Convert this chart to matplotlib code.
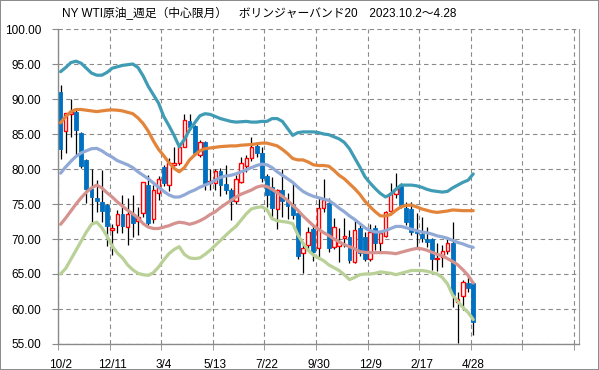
import matplotlib
matplotlib.use("Agg")
import matplotlib.pyplot as plt
import numpy as np

plt.rcParams['font.family'] = ['Liberation Sans', 'Noto Sans CJK JP', 'DejaVu Sans']

title = "NY WTI原油_週足（中心限月）　ボリンジャーバンド20　2023.10.2～4.28"
tick_labels = ["10/2", "12/11", "3/4", "5/13", "7/22", "9/30", "12/9", "2/17", "4/28"]

opens = [90.95, 85.43, 87.86, 88.1, 85.1, 81.3, 77.2, 75.9, 75.3, 74.8,
         71.24, 72.0, 73.57, 71.67, 73.57, 72.62, 73.67, 77.71, 72.81, 76.62,
         80.33, 77.71, 80.6, 80.81, 83.19, 86.9, 86.1, 82.0, 83.9, 78.0,
         77.95, 79.71, 77.86, 77.0, 75.5, 78.2, 80.43, 81.52, 83.29, 82.24,
         79.0, 77.38, 74.24, 77.0, 75.5, 74.8, 73.67, 68.05, 69.14, 71.4,
         68.67, 74.38, 75.19, 68.9, 69.0, 70.2, 70.33, 66.76, 71.52, 70.33,
         67.1, 71.52, 69.38, 70.43, 74.05, 76.5, 77.5, 74.4, 74.3, 71.2,
         70.7, 70.0, 69.95, 67.1, 67.48, 68.3, 69.4, 61.05, 61.8, 63.7,
         63.67]
highs = [92.0, 88.0, 89.95, 88.5, 85.3, 81.5, 79.95, 78.4, 79.85, 75.0,
         72.1, 74.14, 76.29, 75.8, 76.29, 74.6, 78.2, 79.14, 77.7, 79.0,
         80.6, 81.6, 83.19, 83.6, 87.86, 87.8, 86.3, 84.2, 84.0, 80.0,
         80.0, 80.2, 80.57, 77.3, 79.1, 81.76, 82.0, 84.62, 83.8, 83.1,
         79.3, 78.9, 77.1, 79.95, 76.53, 77.95, 74.0, 69.5, 71.76, 72.1,
         76.0, 78.52, 75.8, 73.05, 71.52, 72.95, 71.29, 72.71, 72.0, 71.0,
         72.14, 72.0, 71.0, 74.05, 77.95, 79.4, 78.0, 75.33, 75.3, 73.67,
         73.2, 71.76, 70.2, 69.5, 69.1, 70.3, 72.5, 62.5, 64.2, 64.9,
         64.0]
lows = [81.5, 82.3, 84.6, 82.0, 80.1, 75.1, 72.5, 73.9, 72.5, 69.0,
        67.7, 70.9, 70.9, 69.14, 70.33, 70.57, 73.2, 72.0, 72.3, 75.57,
        77.6, 76.8, 80.4, 80.6, 83.1, 85.6, 82.0, 81.7, 77.0, 77.0,
        77.0, 76.14, 76.5, 72.7, 75.0, 78.0, 79.6, 81.2, 81.7, 78.2,
        74.62, 73.2, 71.5, 73.2, 72.81, 72.9, 67.1, 65.19, 68.3, 66.8,
        67.2, 73.8, 68.19, 68.6, 66.76, 68.9, 66.6, 66.53, 67.6, 66.8,
        66.9, 68.43, 68.1, 70.3, 73.6, 75.9, 74.5, 72.0, 70.6, 68.67,
        69.6, 68.8, 65.6, 65.4, 66.0, 67.9, 60.3, 55.1, 59.8, 62.5,
        56.3]
closes = [82.8, 87.95, 88.19, 85.6, 80.4, 77.2, 76.05, 75.5, 74.05, 71.9,
          71.62, 73.57, 71.9, 73.57, 72.24, 73.19, 78.1, 72.33, 77.0, 78.52,
          77.95, 80.8, 80.81, 83.19, 87.0, 86.0, 82.3, 83.9, 78.05, 78.3,
          79.71, 77.71, 77.0, 75.5, 78.6, 80.9, 81.62, 83.19, 82.24, 78.67,
          76.3, 74.38, 77.0, 75.5, 74.76, 73.43, 67.57, 68.67, 71.05, 68.2,
          74.38, 75.57, 68.67, 71.76, 69.62, 70.4, 67.0, 71.29, 67.95, 67.1,
          71.05, 69.38, 70.81, 73.9, 76.62, 77.1, 74.86, 72.5, 71.05, 70.8,
          70.2, 69.6, 67.1, 67.3, 68.33, 69.4, 62.0, 61.5, 63.9, 62.95,
          58.2]

upper2 = [93.9, 94.5, 95.2, 95.4, 95.1, 94.4, 93.7, 93.4, 93.4, 93.8,
          94.4, 94.6, 94.8, 94.9, 95.0, 94.5, 93.3, 91.8, 90.6, 89.4,
          87.5, 86.2, 84.8, 83.2, 84.2, 85.6, 86.6, 87.6, 87.9, 87.8,
          87.5, 87.2, 87.0, 86.8, 86.7, 86.75, 86.8, 86.7, 86.7, 86.8,
          86.8, 87.2, 87.2, 86.8, 85.8, 84.8, 85.2, 85.3, 85.3, 85.3,
          85.2, 85.0, 84.9, 84.6, 84.3, 83.8, 82.9, 81.6, 80.3, 78.9,
          78.0, 77.2, 76.5, 76.0, 76.4, 77.1, 77.7, 77.7, 77.7, 77.6,
          77.4, 77.1, 76.9, 76.8, 76.7, 76.8, 77.3, 77.7, 78.1, 78.4,
          79.3]
upper1 = [86.6, 87.5, 88.2, 88.5, 88.5, 88.4, 88.3, 88.2, 88.3, 88.4,
          88.45, 88.4, 88.3, 88.1, 87.9, 87.3, 86.5, 85.4, 84.0, 82.8,
          81.9, 80.9, 80.1, 79.6, 80.2, 81.3, 82.0, 82.6, 82.9, 83.0,
          83.1, 83.2, 83.25, 83.3, 83.3, 83.4, 83.45, 83.5, 83.6, 83.7,
          83.7, 83.5, 83.3, 82.8, 82.2, 81.5, 81.3, 81.3, 81.0, 80.6,
          80.5, 80.5, 80.4, 79.8, 79.1, 78.6, 77.9, 77.2, 76.4, 75.4,
          74.6, 73.9, 73.3, 73.3, 73.5, 74.1, 74.6, 74.8, 74.85, 74.6,
          74.3, 74.1, 73.9, 73.8, 73.9, 74.0, 74.15, 74.1, 74.05, 74.05,
          74.05]
middle = [79.4, 80.3, 81.1, 81.8, 82.3, 82.6, 82.9, 82.95, 82.6, 82.1,
          81.7, 81.2, 80.9, 80.6, 80.2, 79.6, 79.1, 78.6, 78.0, 77.4,
          76.8, 76.3, 76.0, 76.0, 76.3, 76.7, 77.0, 77.4, 77.7, 78.0,
          78.4, 78.8, 79.0, 79.1, 79.3, 79.6, 79.9, 80.2, 80.5, 80.7,
          80.6, 80.2, 79.6, 79.1, 78.6, 78.1, 77.4, 76.8, 76.4, 76.1,
          75.9, 75.7, 75.5, 75.0, 74.4, 73.9, 73.3, 72.8, 72.2, 71.6,
          71.2, 71.0, 71.0, 71.2, 71.5, 71.8, 71.8, 71.6, 71.4, 71.2,
          71.0, 70.9, 70.7, 70.45, 70.3, 70.1, 69.8, 69.5, 69.3, 69.0,
          68.8]
lower1 = [72.1, 73.0, 74.0, 75.0, 75.9, 76.7, 77.3, 77.7, 77.3, 76.6,
          76.0, 75.3, 74.7, 74.1, 73.6, 73.0, 72.2, 71.7, 71.5, 71.5,
          71.7, 71.9, 72.2, 72.4, 72.3, 72.1, 72.3, 72.6, 73.0, 73.5,
          73.9, 74.5, 75.0, 75.5, 76.0, 76.4, 76.7, 77.0, 77.4, 77.6,
          77.5, 77.1, 76.6, 76.1, 75.5, 74.8, 74.1, 73.3, 72.6, 71.9,
          71.4, 70.9, 70.5, 70.0, 69.6, 69.2, 68.9, 68.6, 68.2, 68.1,
          68.05, 68.05, 68.05, 68.05, 68.0, 67.9, 68.1, 68.3, 68.5, 68.65,
          68.6, 68.4, 68.1, 67.8, 67.6, 67.2, 66.8, 66.3, 65.6, 64.8,
          63.7]
lower2 = [65.0, 65.8, 67.1, 68.4, 69.7, 71.0, 72.1, 72.4, 71.6, 70.4,
          69.0, 68.0, 67.3, 66.3, 65.6, 65.1, 64.9, 64.8, 65.2, 66.0,
          67.0, 67.9, 68.5, 68.9, 67.8, 67.3, 67.2, 67.3, 67.8, 68.4,
          69.1, 69.8, 70.5, 71.2, 71.8, 72.7, 73.6, 74.3, 74.5, 74.6,
          74.2, 72.9, 72.6, 72.5, 72.4, 72.2, 70.6, 69.4, 68.4, 67.7,
          67.3, 66.9, 66.3, 65.9, 65.5, 64.9, 64.2, 64.5, 64.9, 65.0,
          65.0, 65.1, 65.3, 65.2, 65.1, 64.9, 65.1, 65.3, 65.5, 65.5,
          65.5, 65.4, 65.2, 65.0, 64.5, 63.6, 62.0, 61.1, 60.2, 59.5,
          58.5]

n_slots = 101
label_step = 10

W, H = 599, 370
fig = plt.figure(figsize=(W / 100, H / 100), dpi=100, facecolor='white',
                 edgecolor='#8c8c8c', linewidth=1.2)
ax = fig.add_axes([58 / W, 1 - 344 / H, (579 - 58) / W, (344 - 29) / H])

x = np.arange(len(closes))
o = np.array(opens); c = np.array(closes)
h = np.array(highs); l = np.array(lows)
up = c >= o

# wicks
ax.vlines(x, l, h, color='black', linewidth=0.9, zorder=2)
# bodies
body_bottom = np.minimum(o, c)
body_h = np.maximum(np.abs(c - o), 0.06)
ax.bar(x[~up], body_h[~up], bottom=body_bottom[~up], width=0.74,
       color='#0070C0', edgecolor='#0070C0', linewidth=0.6, zorder=3)
ax.bar(x[up], body_h[up], bottom=body_bottom[up], width=0.66,
       color='white', edgecolor='#FF0000', linewidth=1.0, zorder=3)

lw = 2.3
ax.plot(x, lower2, color='#B9D096', linewidth=lw, zorder=4, solid_capstyle='round')
ax.plot(x, lower1, color='#D5928F', linewidth=lw, zorder=4, solid_capstyle='round')
ax.plot(x, middle, color='#91A9D6', linewidth=lw, zorder=4, solid_capstyle='round')
ax.plot(x, upper1, color='#E2843A', linewidth=lw, zorder=4, solid_capstyle='round')
ax.plot(x, upper2, color='#3F9CB4', linewidth=lw, zorder=4, solid_capstyle='round')

ax.set_xlim(-0.5, n_slots - 0.5)
ax.set_ylim(55, 100)

yt = np.arange(55, 100.1, 5)
ax.set_yticks(yt)
ax.set_yticklabels([f"{v:.2f}" for v in yt])

lab_pos = np.arange(len(tick_labels)) * label_step
ax.set_xticks(lab_pos)
ax.set_xticklabels(tick_labels)
ax.set_xticks(np.arange(-0.5, n_slots, label_step), minor=True)

grid_kw = dict(color='#8a8a8a', linestyle=(0, (4, 3)), linewidth=0.8)
ax.grid(False)
ax.yaxis.grid(True, which='major', **grid_kw)
ax.xaxis.grid(True, which='minor', **grid_kw)
ax.set_axisbelow(True)

ax.tick_params(axis='x', which='major', length=0, pad=11, labelsize=8.5, colors='black')
ax.tick_params(axis='x', which='minor', length=4, color='#8a8a8a')
ax.tick_params(axis='y', which='major', length=4, color='#8a8a8a', pad=8, labelsize=8.5)

for s in ['left', 'bottom']:
    ax.spines[s].set_color('#8a8a8a')
    ax.spines[s].set_linewidth(1.0)
ax.spines['right'].set_color('#a0a0a0')
ax.spines['right'].set_linewidth(0.8)
ax.spines['top'].set_visible(False)

fig.text(62 / W, 1 - 14 / H, title, fontsize=8.5, va='center', ha='left')

fig.savefig('out.png', dpi=100, facecolor='white', edgecolor=fig.get_edgecolor())
